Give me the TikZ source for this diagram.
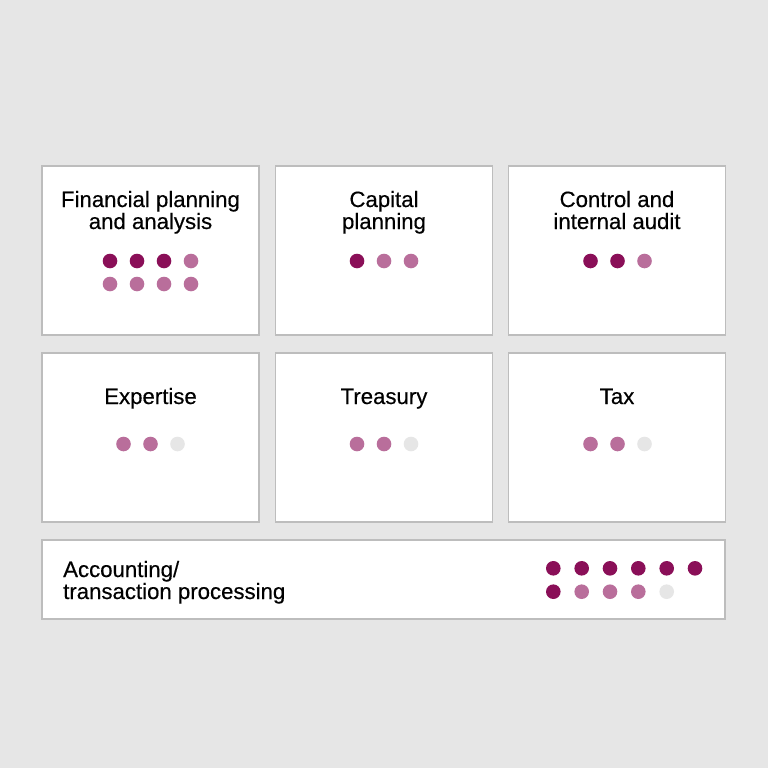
\documentclass[tikz,border=0pt]{standalone}
\usepackage{fontspec}
\setmainfont{Liberation Sans}
\newfontfamily\headfont[FakeBold=0.4]{Liberation Sans}

\definecolor{plum}{HTML}{8A0F58}
\definecolor{mauve}{HTML}{B96E9B}
\definecolor{pale}{HTML}{E6E6E6}
\definecolor{backdrop}{HTML}{E6E6E6}
\definecolor{rim}{HTML}{BDBDBD}

\tikzset{
  panel/.style={rectangle, draw=rim, fill=white, line width=1.2pt, inner sep=0pt, minimum width=217pt, minimum height=169pt},
  title/.style={font=\headfont\fontsize{22.2}{22}\selectfont, align=center, anchor=base, inner sep=0pt},
  dot/.style={circle, inner sep=0pt, minimum size=14.6pt},
}

\begin{document}
\begin{tikzpicture}[x=1pt, y=-1pt]
  \fill[backdrop] (0,0) rectangle (768,768);
  \useasboundingbox (0,0) rectangle (768,768);

  % panels
  \node[panel] (P1) at (150.5,250.5) {};
  \node[panel] (P2) at (384,250.5) {};
  \node[panel] (P3) at (617,250.5) {};
  \node[panel] (P4) at (150.5,437.5) {};
  \node[panel] (P5) at (384,437.5) {};
  \node[panel] (P6) at (617,437.5) {};
  \node[panel, minimum width=683pt, minimum height=79pt] (P7) at (383.5,579.5) {};

  % titles
  \node[title] (T1) at (150.5,229) {Financial planning\\and analysis};
  \node[title] (T2) at (384,229) {Capital\\planning};
  \node[title] (T3) at (617,229) {Control and\\internal audit};
  \node[title] (T4) at (150.5,404) {Expertise};
  \node[title] (T5) at (384,404) {Treasury};
  \node[title] (T6) at (617,404) {Tax};
  \node[title, align=left, anchor=base west] (T7) at (63,599) {Accounting/\\transaction processing};

  % dots
  \node[dot, fill=plum] (A) at (110,261) {};
  \node[dot, fill=plum] (B) at (137,261) {};
  \node[dot, fill=plum] (C) at (164,261) {};
  \node[dot, fill=mauve] (D) at (191,261) {};
  \node[dot, fill=mauve] (E) at (110,284) {};
  \node[dot, fill=mauve] (F) at (137,284) {};
  \node[dot, fill=mauve] (G) at (164,284) {};
  \node[dot, fill=mauve] (H) at (191,284) {};

  \node[dot, fill=plum] (I) at (357,261) {};
  \node[dot, fill=mauve] (J) at (384,261) {};
  \node[dot, fill=mauve] (K) at (411,261) {};

  \node[dot, fill=plum] (L) at (590.5,261) {};
  \node[dot, fill=plum] (M) at (617.5,261) {};
  \node[dot, fill=mauve] (N) at (644.5,261) {};

  \node[dot, fill=mauve] (O) at (123.5,444) {};
  \node[dot, fill=mauve] (Q) at (150.5,444) {};
  \node[dot, fill=pale] (R) at (177.5,444) {};

  \node[dot, fill=mauve] (S) at (357,444) {};
  \node[dot, fill=mauve] (U) at (384,444) {};
  \node[dot, fill=pale] (V) at (411,444) {};

  \node[dot, fill=mauve] (W) at (590.5,444) {};
  \node[dot, fill=mauve] (X) at (617.5,444) {};
  \node[dot, fill=pale] (Y) at (644.5,444) {};

  \node[dot, fill=plum] (Z1) at (553.3,568.3) {};
  \node[dot, fill=plum] (Z2) at (581.7,568.3) {};
  \node[dot, fill=plum] (Z3) at (610,568.3) {};
  \node[dot, fill=plum] (Z4) at (638.3,568.3) {};
  \node[dot, fill=plum] (Z5) at (666.7,568.3) {};
  \node[dot, fill=plum] (Z6) at (695,568.3) {};
  \node[dot, fill=plum] (Z7) at (553.3,591.7) {};
  \node[dot, fill=mauve] (Z8) at (581.7,591.7) {};
  \node[dot, fill=mauve] (Z9) at (610,591.7) {};
  \node[dot, fill=mauve] (Z10) at (638.3,591.7) {};
  \node[dot, fill=pale] (Z11) at (666.7,591.7) {};

\end{tikzpicture}
\end{document}
